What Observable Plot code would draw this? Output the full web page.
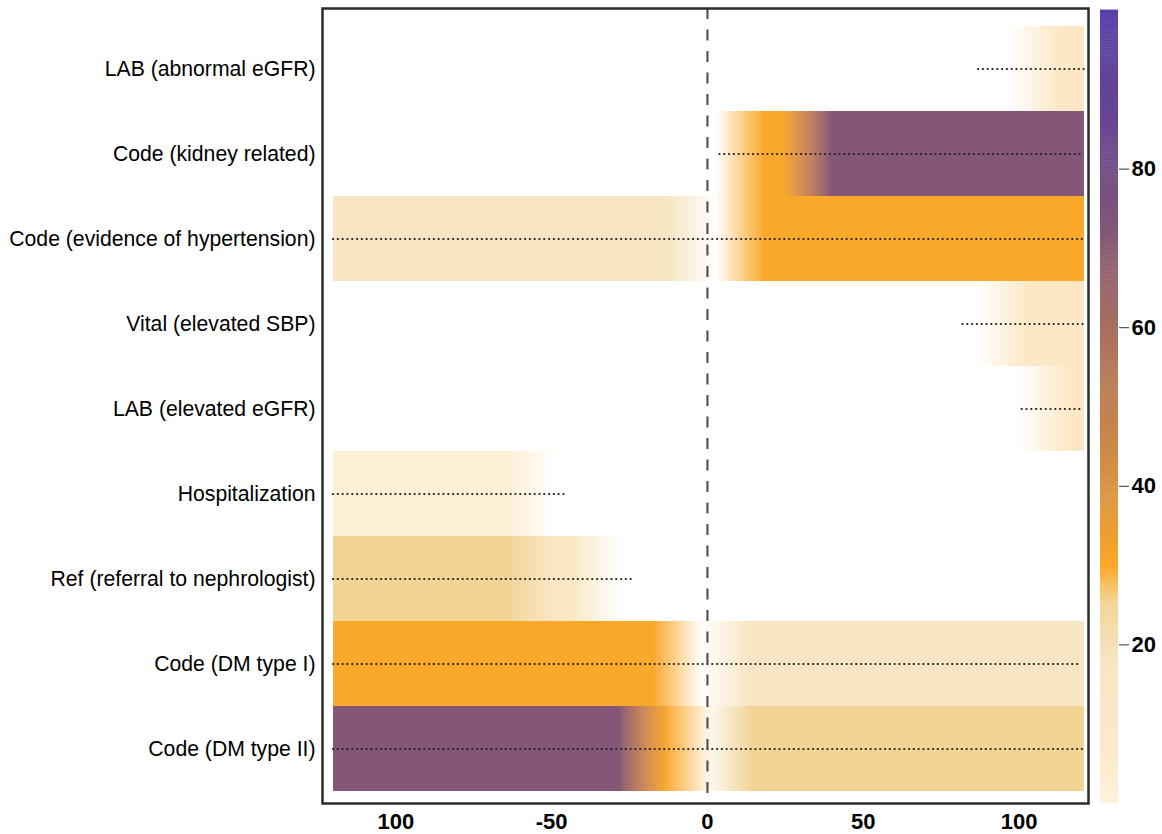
<!DOCTYPE html>
<html>
<head>
<meta charset="utf-8">
<script src="https://cdn.jsdelivr.net/npm/d3@7"></script>
<script src="https://cdn.jsdelivr.net/npm/@observablehq/plot@0.6"></script>
<style>
  html, body { margin: 0; padding: 0; background: white; overflow: hidden; }
  #wrap { position: relative; width: 1162px; height: 834px; }
  #main { position: absolute; left: 0; top: 0; }
  #cbar { position: absolute; left: 1090px; top: 0; }
</style>
</head>
<body>
<div id="wrap"><div id="main"></div><div id="cbar"></div></div>
<script>
// ---------- data ----------
const rows = [
  "LAB (abnormal eGFR)",
  "Code (kidney related)",
  "Code (evidence of hypertension)",
  "Vital (elevated SBP)",
  "LAB (elevated eGFR)",
  "Hospitalization",
  "Ref (referral to nephrologist)",
  "Code (DM type I)",
  "Code (DM type II)"
];

// segments per row: [x start, x end, value]
const segLabAbnormal   = [[105, 121, 8]];
const segKidney        = [[10.6, 32, 30], [32, 121, 72]];
const segHypertension  = [[-120, -4.8, 18], [10.6, 121, 30]];
const segVital         = [[94.7, 121, 8]];
const segLabElevated   = [[108, 121, 8]];
const segHospital      = [[-120, -56, 2]];
const segReferral      = [[-120, -56, 25], [-56, -35.5, 12]];
const segDM1           = [[-120, -9.6, 30], [5.8, 121, 18]];
const segDM2           = [[-120, -20.5, 72], [-20.5, -6, 30], [6.7, 121, 25]];

// dotted range lines per row
const lineStart = [87, 4, -120, 82, 101, -120, -120, -120, -120];
const lineEnd   = [121, 121, 121, 121, 121, -46, -24, 120, 120.7];

const xDomain = [-120, 121];
const xTicks = [-100, -50, 0, 50, 100];
const xTickLabels = ["100", "-50", "0", "50", "100"];
const zeroLine = [0];

const cbTicks = [20, 40, 60, 80];
const cmapStops  = [0, 8, 18, 25, 27, 30, 40, 60, 72, 85, 100];
const cmapColors = ["#fef1dc", "#fde8c6", "#f7e5c3", "#f2d495", "#f6c46a", "#faa82a",
                    "#d8913f", "#a86f60", "#845777", "#664690", "#5a3ea8"];

// ---------- tables ----------
const perRow = [segLabAbnormal, segKidney, segHypertension, segVital, segLabElevated,
                segHospital, segReferral, segDM1, segDM2];
const segments = perRow.flatMap((segs, i) =>
  segs.map(([x1, x2, v]) => ({row: rows[i], x1, x2, value: v})));
const lines = rows.map((r, i) => ({row: r, x1: lineStart[i], x2: lineEnd[i]}));

const colorScale = {type: "linear", domain: cmapStops, range: cmapColors, interpolate: "rgb"};
const font = "Liberation Sans, Arial, Helvetica, sans-serif";

// ---------- main chart ----------
const main = Plot.plot({
  width: 1162,
  height: 834,
  marginLeft: 333,
  marginRight: 78,
  marginTop: 23,
  marginBottom: 40,
  style: {fontFamily: font, background: "transparent", overflow: "visible"},
  x: {domain: xDomain},
  y: {domain: rows, padding: 0},
  color: colorScale,
  marks: [
    Plot.barX(segments, {
      y: "row",
      // outer segments run past the frame so the smoothing keeps their edges solid
      x1: d => d.x1 <= xDomain[0] ? d.x1 - 30 : d.x1,
      x2: d => d.x2 >= xDomain[1] ? d.x2 + 30 : d.x2,
      fill: "value",
      inset: 0,
      clip: true
    }),
    Plot.ruleY(lines, {
      y: "row", x1: "x1", x2: "x2",
      stroke: "#222", strokeWidth: 2.2,
      strokeDasharray: "0.1 4.7", strokeLinecap: "round"
    }),
    Plot.ruleX(zeroLine, {
      x: d => d,
      stroke: "#555", strokeWidth: 2.2, strokeDasharray: "11 10.5",
      insetTop: -15, insetBottom: -9
    }),
    Plot.frame({stroke: "#2b2b2b", strokeWidth: 2.5,
      insetLeft: -11, insetRight: -4, insetTop: -15, insetBottom: -9}),
    Plot.axisX({
      ticks: xTicks,
      tickFormat: d => xTickLabels[xTicks.indexOf(d)],
      tickSize: 0, tickPadding: 19,
      fontSize: 22, fontWeight: "bold", fill: "black", label: null
    }),
    Plot.axisY({
      tickSize: 0, tickPadding: 18,
      fontSize: 21.2, fill: "black", label: null
    })
  ]
});
document.getElementById("main").appendChild(main);

// horizontal linear (box) smoothing for the heat strips, like bilinear interpolation
const W = 49;
const s = d3.select(main);
const filt = s.append("defs").append("filter")
  .attr("id", "hsmooth")
  .attr("x", "-10%").attr("width", "120%")
  .attr("y", "-2%").attr("height", "104%");
filt.append("feConvolveMatrix")
  .attr("order", `${W} 1`)
  .attr("kernelMatrix", Array(W).fill(1).join(" "))
  .attr("divisor", W)
  .attr("edgeMode", "duplicate");
s.select('g[aria-label="bar"]').attr("filter", "url(#hsmooth)");

// ---------- colorbar ----------
const steps = d3.range(0, 100, 0.25);
const cbar = Plot.plot({
  width: 72,
  height: 834,
  marginLeft: 10,
  marginRight: 44,
  marginTop: 10,
  marginBottom: 31,
  style: {fontFamily: font, background: "transparent", overflow: "visible"},
  y: {domain: [0, 100]},
  color: colorScale,
  marks: [
    Plot.rect(steps, {y1: d => d, y2: d => d + 0.3, fill: d => d + 0.125}),
    Plot.axisY({
      anchor: "right", ticks: cbTicks,
      tickSize: 10, tickPadding: 3, stroke: "#333",
      fontSize: 22, fontWeight: "bold", fill: "black", label: null
    })
  ]
});
document.getElementById("cbar").appendChild(cbar);
</script>
</body>
</html>
